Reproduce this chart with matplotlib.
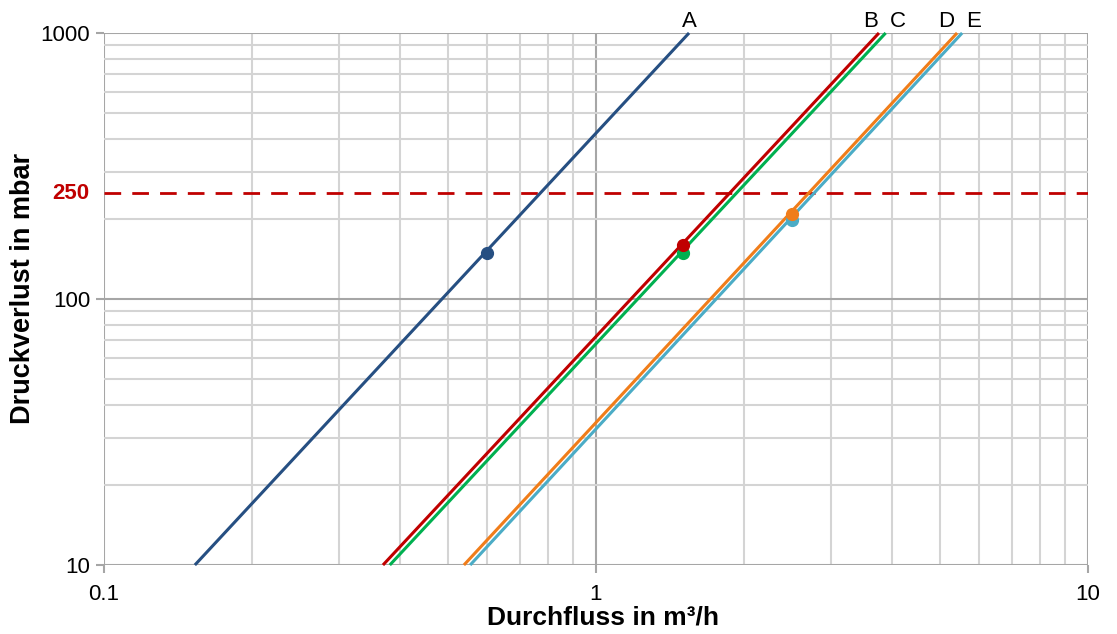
import numpy as np
import matplotlib
matplotlib.use("Agg")
import matplotlib.pyplot as plt
from matplotlib.ticker import NullFormatter, LogLocator

plt.rcParams["font.family"] = ["Liberation Sans", "DejaVu Sans"]

# curves: flow at 10 mbar and at 1000 mbar (straight in log-log)
names = ["A", "B", "C", "D", "E"]
colors = ["#264f82", "#c00000", "#00b050", "#f07d1a", "#4bacc6"]
q_low = [0.153, 0.369, 0.381, 0.539, 0.555]
q_high = [1.546, 3.76, 3.88, 5.42, 5.55]
p_ends = [10, 1000]

# operating points
dot_q = [0.60, 1.50, 1.50, 2.50, 2.50]
dot_p = [149, 160, 149, 209, 198]

limit_p = 250

fig = plt.figure(figsize=(11.17, 6.34), dpi=100)
ax = fig.add_axes([0.0931, 0.1088, 0.8809, 0.8392])
ax.set_xscale("log")
ax.set_yscale("log")
ax.set_xlim(0.1, 10)
ax.set_ylim(10, 1000)

ax.xaxis.set_minor_locator(LogLocator(base=10, subs=np.arange(2, 10)))
ax.yaxis.set_minor_locator(LogLocator(base=10, subs=np.arange(2, 10)))
ax.xaxis.set_minor_formatter(NullFormatter())
ax.yaxis.set_minor_formatter(NullFormatter())
ax.set_xticks([0.1, 1, 10])
ax.set_xticklabels(["0.1", "1", "10"])
ax.set_yticks([10, 100, 1000])
ax.set_yticklabels(["10", "100", "1000"])
ax.tick_params(which="minor", length=0)
ax.tick_params(which="major", length=6, width=1.5, color="#a6a6a6",
               labelsize=16)
ax.tick_params(axis="y", pad=4)
ax.tick_params(axis="x", pad=8)

ax.grid(which="major", color="#a6a6a6", linewidth=1.5)
ax.grid(which="minor", color="#d4d4d4", linewidth=1.5)
ax.set_axisbelow(True)
for s in ax.spines.values():
    s.set_visible(False)

ax.axhline(limit_p, color="#c00000", linewidth=2, linestyle=(0, (6, 4)))
ax.text(-0.015, limit_p, "250", transform=ax.get_yaxis_transform(),
        ha="right", va="center", color="#c00000", fontsize=16,
        fontweight="bold")

for i in range(len(names)):
    ax.plot([q_low[i], q_high[i]], p_ends, color=colors[i], linewidth=2.2,
            solid_capstyle="butt", clip_on=False)
for i in [0, 2, 1, 4, 3]:
    ax.plot(dot_q[i], dot_p[i], "o", color=colors[i], markersize=8.5)

offsets = {"A": (0, "center"), "B": (-1, "right"), "C": (3, "left"),
           "D": (-2, "right"), "E": (3, "left")}
for i, n in enumerate(names):
    dx, ha = offsets[n]
    ax.annotate(n, (q_high[i], 1000), xytext=(dx, 1),
                textcoords="offset points", ha=ha, va="bottom", fontsize=16)

ax.set_xlabel("Durchfluss in m³/h", fontsize=19, fontweight="bold")
ax.set_ylabel("Druckverlust in mbar", fontsize=19.5, fontweight="bold")
ax.xaxis.set_label_coords(0.507, -0.076)
ax.yaxis.set_label_coords(-0.069, 0.52)

fig.savefig("out.png", dpi=100)
